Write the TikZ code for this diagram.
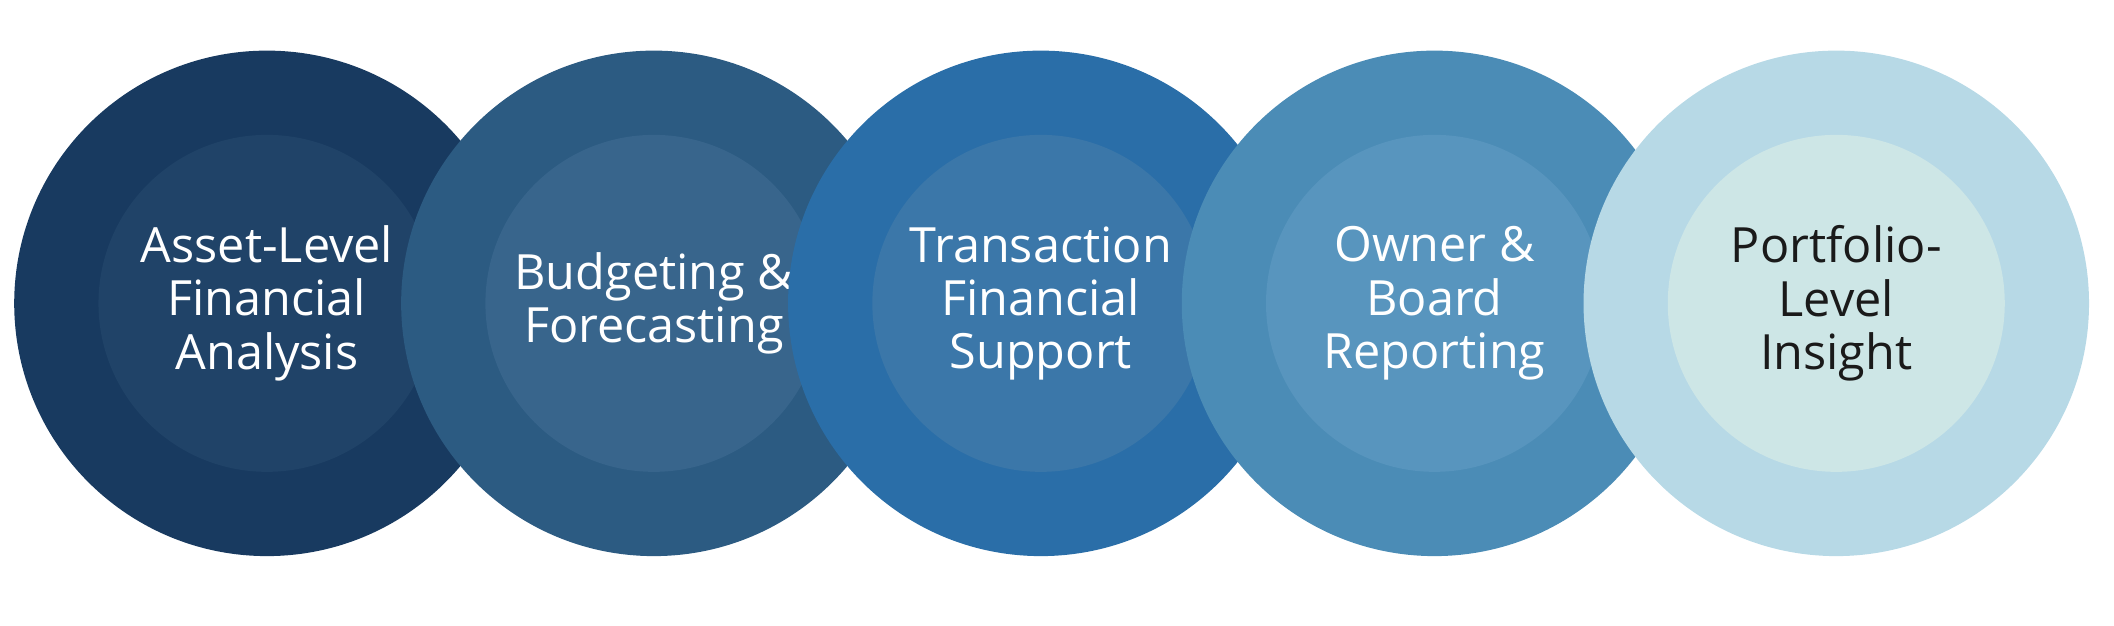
\documentclass[tikz,border=0pt]{standalone}
\usepackage{fontspec}
\setmainfont{Open Sans}
\usetikzlibrary{positioning}
\definecolor{outA}{HTML}{183A60}\definecolor{inA}{HTML}{204368}
\definecolor{outB}{HTML}{2C5B82}\definecolor{inB}{HTML}{38658C}
\definecolor{outC}{HTML}{2A6EA8}\definecolor{inC}{HTML}{3B77A9}
\definecolor{outD}{HTML}{4B8CB6}\definecolor{inD}{HTML}{5895BE}
\definecolor{outE}{HTML}{B7D9E6}\definecolor{inE}{HTML}{CDE6E6}
\definecolor{darktext}{HTML}{1A1A1A}
\begin{document}
\begin{tikzpicture}[x=0.02cm,y=-0.02cm,
    % Style for the rings
    ring/.style={circle, minimum size=7.5cm, inner sep=0pt, outer sep=0pt},
    core/.style={circle, minimum size=5cm, inner sep=0pt, outer sep=0pt},
    label/.style={align=center, font=\fontsize{20.5}{22.5}\selectfont}
]
    \useasboundingbox (0,0) rectangle (1568,464);
    % --- Rings and cores ---
    \foreach \x/\o/\i/\t/\c/\n in {
        198/outA/inA/{Asset-Level\\Financial\\Analysis}/white/a,
        485/outB/inB/{Budgeting \&\\Forecasting}/white/b,
        772/outC/inC/{Transaction\\Financial\\Support}/white/c,
        1064/outD/inD/{Owner \&\\Board\\Reporting}/white/d,
        1362/outE/inE/{Portfolio-\\Level\\Insight}/darktext/e} {
        \node[ring, fill=\o] (ring\n) at (\x,225) {};
        \node[core, fill=\i] (core\n) at (\x,225) {};
        \node[label, text=\c] (text\n) at (\x,225) {\t};
    }
\end{tikzpicture}
\end{document}
